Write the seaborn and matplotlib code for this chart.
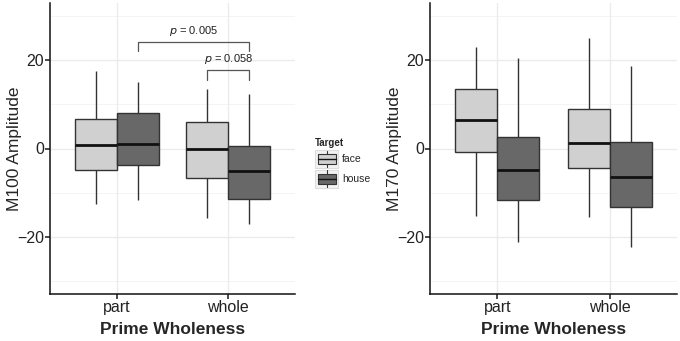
import numpy as np
import pandas as pd
import seaborn as sns
import matplotlib
matplotlib.use("Agg")
import matplotlib.pyplot as plt
from matplotlib.legend_handler import HandlerBase
from matplotlib.patches import Rectangle
from matplotlib.lines import Line2D

# ---- data (five-number summaries) ----
prime = ["part", "whole"]
targets = ["face", "house"]
# each: [lower whisker, Q1, median, Q3, upper whisker]
m100_face_part = [-12.5, -4.8, 0.8, 6.7, 17.5]
m100_house_part = [-11.7, -3.8, 1.0, 8.1, 15.1]
m100_face_whole = [-15.8, -6.7, 0.0, 6.1, 13.6]
m100_house_whole = [-17.1, -11.4, -5.0, 0.5, 12.3]
m170_face_part = [-15.4, -0.8, 6.4, 13.6, 23.1]
m170_house_part = [-21.2, -11.6, -4.8, 2.7, 20.5]
m170_face_whole = [-15.5, -4.4, 1.3, 8.9, 25.1]
m170_house_whole = [-22.3, -13.2, -6.5, 1.4, 18.6]
p_labels = ["p = 0.005", "p = 0.058"]

def build(groups):
    rows = []
    for (pw, tg), vals in groups.items():
        for v in vals:
            rows.append({"Prime": pw, "Target": tg, "Amp": v})
    return pd.DataFrame(rows)

df100 = build({("part", "face"): m100_face_part, ("part", "house"): m100_house_part,
               ("whole", "face"): m100_face_whole, ("whole", "house"): m100_house_whole})
df170 = build({("part", "face"): m170_face_part, ("part", "house"): m170_house_part,
               ("whole", "face"): m170_face_whole, ("whole", "house"): m170_house_whole})

sns.set_theme(style="white")
plt.rcParams["font.family"] = ["Liberation Sans", "DejaVu Sans"]

face_c = "#D0D0D0"
house_c = "#686868"
edge_c = "#333333"
palette = {"face": face_c, "house": house_c}

fig = plt.figure(figsize=(6.8, 3.41), dpi=100)
ax1 = fig.add_axes([50/680, 1-294/341, 245/680, 291/341])
ax2 = fig.add_axes([430/680, 1-294/341, 247/680, 291/341])

for ax, df, ylab, lx in [(ax1, df100, "M100 Amplitude", -0.114),
                         (ax2, df170, "M170 Amplitude", -0.113)]:
    # grid
    for y in [-30, -10, 10, 30]:
        ax.axhline(y, color="#F3F3F3", lw=0.6, zorder=0)
    for y in [-20, 0, 20]:
        ax.axhline(y, color="#EBEBEB", lw=1.0, zorder=0)
    for x in [0, 1]:
        ax.axvline(x, color="#EBEBEB", lw=1.0, zorder=0)
    sns.boxplot(data=df, x="Prime", y="Amp", hue="Target", order=prime,
                hue_order=targets, palette=palette, whis=(0, 100), width=0.75,
                gap=0, saturation=1, linewidth=1.0, linecolor=edge_c,
                medianprops=dict(color="#111111", linewidth=2.0),
                whiskerprops=dict(color="#333333", linewidth=1.0),
                capprops=dict(linewidth=0), ax=ax, legend=False, zorder=2)
    ax.set_ylim(-33, 33)
    ax.set_xlim(-0.6, 1.6)
    ax.set_yticks([-20, 0, 20])
    ax.set_yticklabels(["\u221220", "0", "20"])
    ax.set_xlabel("Prime Wholeness", fontsize=12.5, fontweight="bold", labelpad=5)
    ax.set_ylabel(ylab, fontsize=12.5)
    ax.yaxis.set_label_coords(lx, 0.5)
    ax.tick_params(axis="both", labelsize=11.5, length=3.5, color="#333333",
                   left=True, bottom=True, pad=1, labelcolor="#222222")
    for s in ["top", "right"]:
        ax.spines[s].set_visible(False)
    for s in ["left", "bottom"]:
        ax.spines[s].set_color("#111111")
        ax.spines[s].set_linewidth(1.1)

# significance brackets (left panel)
def bracket(ax, x0, x1, ytop, ybot, label):
    ax.plot([x0, x0, x1, x1], [ybot, ytop, ytop, ybot], color="#555555", lw=0.9, zorder=3)
    ax.text((x0 + x1) / 2, ytop + 0.9, label, ha="center", va="bottom", fontsize=8,
            color="#222222", zorder=3)

def plabel(s):
    return r"$\it{p}$" + s[1:]

bracket(ax1, 0.1875, 1.1875, 24.2, 22.2, plabel(p_labels[0]))
bracket(ax1, 0.8125, 1.1875, 17.9, 15.6, plabel(p_labels[1]))

# legend with boxplot glyph keys
class BoxHandler(HandlerBase):
    def create_artists(self, legend, orig_handle, xdescent, ydescent, width, height, fontsize, trans):
        fc = orig_handle.get_facecolor()
        bg = Rectangle((-xdescent, -ydescent), width, height, facecolor="#F2F2F2",
                       edgecolor="#DDDDDD", lw=0.8, transform=trans)
        bx = Rectangle((-xdescent + width*0.1, -ydescent + height*0.22), width*0.8, height*0.56,
                       facecolor=fc, edgecolor=edge_c, lw=0.8, transform=trans)
        cx = -xdescent + width/2
        w1 = Line2D([cx, cx], [-ydescent + height*0.05, -ydescent + height*0.22], color=edge_c, lw=0.8, transform=trans)
        w2 = Line2D([cx, cx], [-ydescent + height*0.78, -ydescent + height*0.95], color=edge_c, lw=0.8, transform=trans)
        md = Line2D([-xdescent + width*0.1, -xdescent + width*0.9], [-ydescent + height/2]*2,
                    color="#111111", lw=1.0, transform=trans)
        return [bg, bx, w1, w2, md]

handles = [Rectangle((0, 0), 1, 1, facecolor=face_c), Rectangle((0, 0), 1, 1, facecolor=house_c)]
leg = fig.legend(handles, targets, handler_map={Rectangle: BoxHandler()},
                 loc="upper left", bbox_to_anchor=(308/680, 1-131/341), frameon=False,
                 title="Target", fontsize=7.5, title_fontsize=7, handlelength=2.2,
                 handleheight=2.3, handletextpad=0.35, labelspacing=0.15,
                 alignment="left", borderpad=0.2)
leg.get_title().set_fontweight("bold")

fig.savefig("out.png", dpi=100, facecolor="white")
